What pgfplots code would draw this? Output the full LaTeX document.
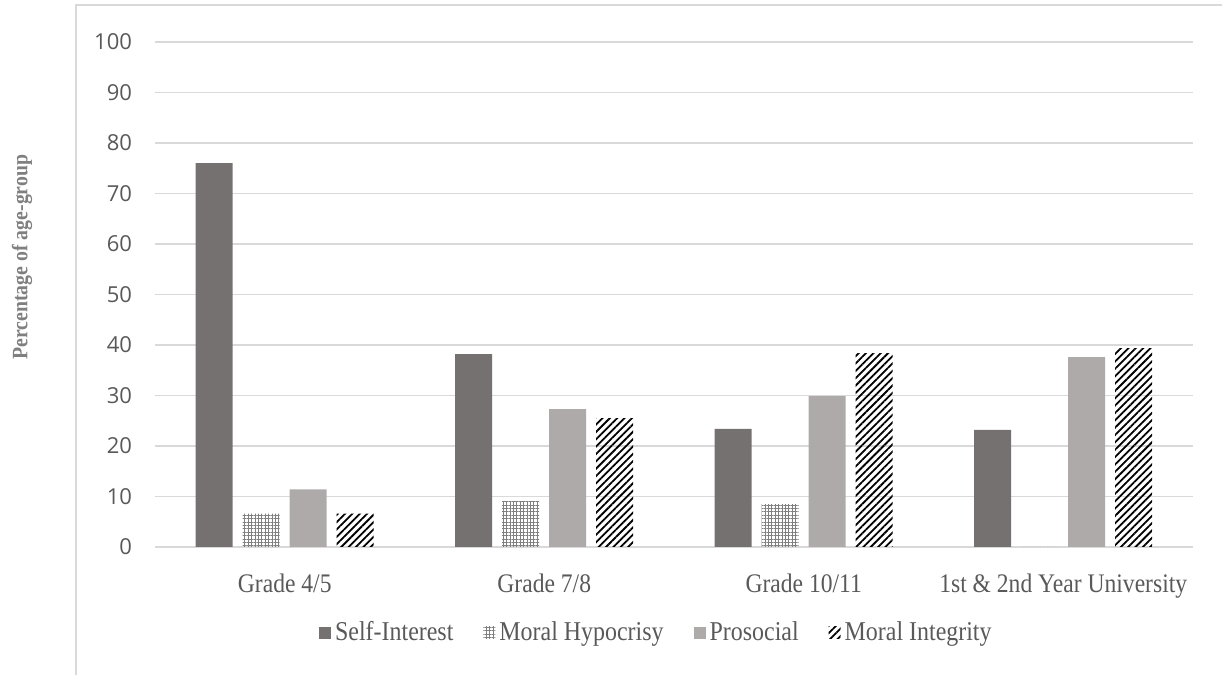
\documentclass[border=0pt]{standalone}
\usepackage{pgfplots}
\pgfplotsset{compat=1.18}
\usetikzlibrary{patterns.meta}
\usepackage{fontspec}
\setmainfont{Liberation Serif}
\newfontfamily\condserif[FakeStretch=0.88]{Liberation Serif}
\newfontfamily\condbold[FakeStretch=0.9]{Liberation Serif Bold}
\newfontfamily\tickfont{Open Sans}
\definecolor{selfc}{HTML}{767171}
\definecolor{prosc}{HTML}{AEAAAA}
\definecolor{gridc}{HTML}{D9D9D9}
\definecolor{txtc}{HTML}{595959}
\definecolor{labc}{HTML}{7F7F7F}
\begin{document}
\begin{tikzpicture}
\path[use as bounding box] (0,0) rectangle (611pt,337.5pt);
\draw[gridc, line width=0.75pt] (38pt,0) -- (38pt,335pt) -- (612pt,335pt);
\begin{axis}[
  at={(77.5pt,64pt)}, anchor=south west,
  scale only axis, width=519pt, height=252.5pt,
  ymin=0, ymax=100, ytick={0,10,...,100},
  xmin=-0.5, xmax=3.5, xtick={0,1,2,3},
  xticklabels={Grade 4/5, Grade 7/8, Grade 10/11, 1st \& 2nd Year University},
  axis line style={draw=none},
  major tick length=0pt,
  ymajorgrids, grid style={gridc, line width=0.8pt},
  ybar=5pt, bar width=18.5pt,
  /pgf/number format/assume math mode=true,
  yticklabel style={font=\tickfont\fontsize{11}{13}\selectfont, text=txtc, xshift=-8pt},
  xticklabel style={font=\condserif\fontsize{13.4}{15}\selectfont, text=txtc, yshift=-10pt},
  ylabel={Percentage of age-group},
  ylabel style={font=\condbold\fontsize{11}{12}\selectfont, text=labc, at={(axis description cs:-0.128,0.574)}, anchor=center},
  legend columns=4,
  legend style={draw=none, fill=none, at={(0.484,-0.170)}, anchor=center,
    font=\condserif\fontsize{13.6}{15}\selectfont, text=txtc,
    /tikz/every odd column/.append style={column sep=0pt},
    /tikz/every even column/.append style={column sep=13pt},
    nodes={inner sep=2pt}},
  legend image code/.code={\draw[#1,draw=none] (0pt,-3pt) rectangle (6pt,3pt);},
]
\addplot[fill=selfc, draw=none] coordinates {(0,76.0) (1,38.2) (2,23.4) (3,23.2)};
\addplot[draw=none, pattern={Hatch[angle=0,distance=1.7pt,line width=0.35pt]}, pattern color=gray] coordinates {(0,6.6) (1,9.1) (2,8.5) (3,0)};
\addplot[fill=prosc, draw=none] coordinates {(0,11.4) (1,27.3) (2,29.9) (3,37.6)};
\addplot[draw=none, pattern={Lines[angle=45,distance=2.6pt,line width=0.9pt]}, pattern color=black] coordinates {(0,6.6) (1,25.5) (2,38.4) (3,39.4)};
\legend{Self-Interest, Moral Hypocrisy, Prosocial, Moral Integrity}
\end{axis}
\end{tikzpicture}
\end{document}
